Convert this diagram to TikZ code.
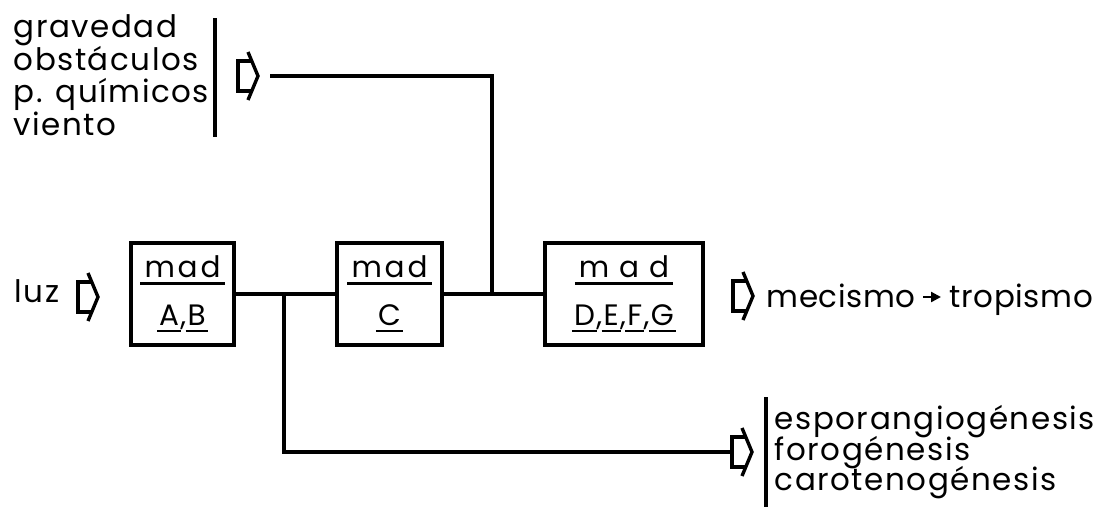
\documentclass[tikz,border=0pt]{standalone}
\usepackage{fontspec}
\setmainfont{Poppins}[LetterSpace=5]
\usepackage{tikz}
\usetikzlibrary{arrows.meta}

% underlined text, the bar a bit longer than the text
\newcommand{\ulin}[2][1.5pt]{\leavevmode\setbox0\hbox{#2}%
  \rlap{\kern-#1\raisebox{-5pt}{\rule{\dimexpr\wd0+#1+#1\relax}{1.8pt}}}\box0}

\tikzset{
  inarrow/.pic={
    \draw (13.75,-15) -- (0,-15) -- (0,15) -- (13.75,15);
    \draw (10,-24) -- (20,0) -- (10,24);
    \coordinate (-tail) at (0,0);
    \coordinate (-tip) at (20,0);
  }
}

\begin{document}
\begin{tikzpicture}[
    x=0.025cm, y=-0.025cm, % one unit is one pixel of the scan
    line width=2.4pt, % Line thickness
    line join=miter,
    madbox/.style={draw, rectangle, line width=2.6pt, minimum height=2.55cm,
      align=center, font=\fontsize{21}{34}\selectfont},
    lbl/.style={anchor=base west, inner sep=0pt, font=\fontsize{22}{22}\selectfont}
]
\useasboundingbox (0,0) rectangle (1099,507);

% Define the boxes
\node[madbox, minimum width=2.575cm] (ab) at (182.5,294) {\ulin[3pt]{m\kern2pt a\kern2pt d}\\\ulin{A}\kern1pt,\kern1pt\ulin{B}};
\node[madbox, minimum width=2.625cm] (c) at (389.5,294) {\ulin[3pt]{m\kern2pt a\kern2pt d}\\\ulin{C}};
\node[madbox, minimum width=3.95cm] (defg) at (624,294) {\ulin[3pt]{m\kern7pt a\kern7pt d}\\\ulin{D}\kern1pt,\kern1pt\ulin{E}\kern1pt,\kern1pt\ulin{F}\kern1pt,\kern1pt\ulin{G}};

% Define the hollow arrows
\pic (luzarr) at (78,297) {inarrow};
\pic (toparr) at (238,76) {inarrow};
\pic (mecarr) at (733,296) {inarrow};
\pic (bo) at (732,452) {inarrow};

% Define the labels
\node[lbl] (grav) at (12,37) {gravedad};
\node[lbl] (obst) at (12,70) {obstáculos};
\node[lbl] (quim) at (12,102) {p. químicos};
\node[lbl] (vien) at (12,135) {viento};
\node[lbl] (luz) at (13,302) {luz};
\node[lbl] (mec) at (765,307) {\addfontfeatures{LetterSpace=2}mecismo};
\node[lbl] (trop) at (948,307) {\addfontfeatures{LetterSpace=2}tropismo};
\node[lbl] (espo) at (773,429) {esporangiogénesis};
\node[lbl] (foro) at (773,460) {forogénesis};
\node[lbl] (caro) at (773,490) {carotenogénesis};

% the bars beside the lists
\draw[line width=2.4pt] (215,18) -- (215,137);
\draw[line width=2.4pt] (766,397) -- (766,507);

% Define the connectors
\coordinate (jb) at (284,294);
\coordinate (jt) at (492,294);
\coordinate (tline) at (270,76);
\draw (ab) -- (c);
\draw (c) -- (defg);
\draw (jb) |- (bo-tail);
\draw (jt) |- (tline);
\draw[-{Triangle[length=7pt,width=7pt]}, line width=1.6pt]
  ([shift={(6,-10)}]mec.base east) -- ([shift={(-7,-10)}]trop.base west);

\end{tikzpicture}
\end{document}
